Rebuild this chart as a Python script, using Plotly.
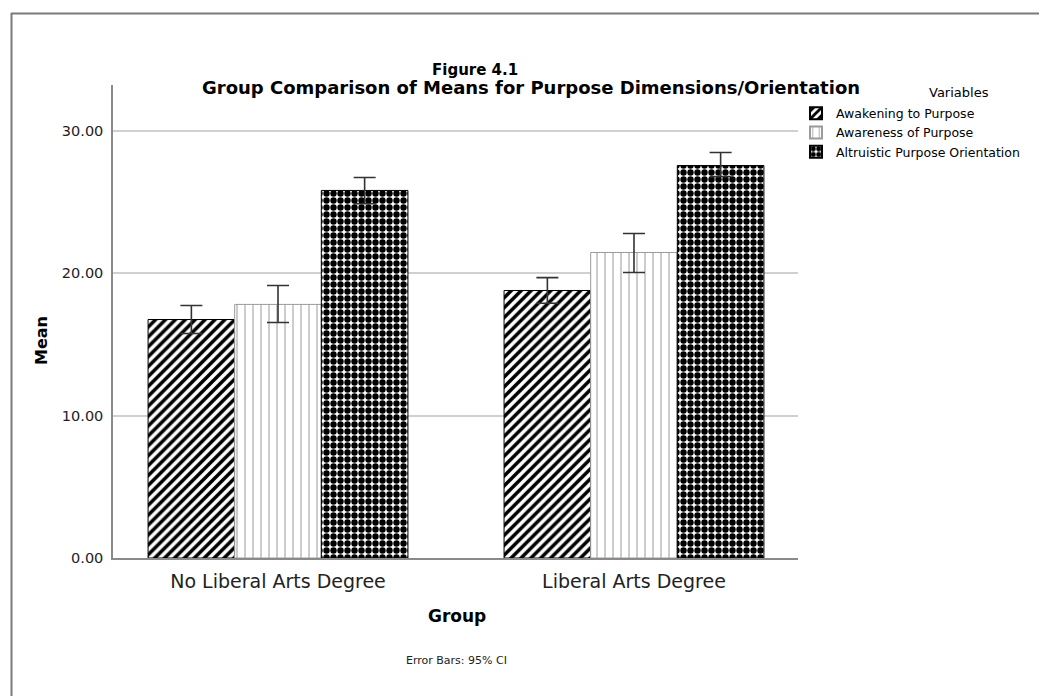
import plotly.graph_objects as go

groups = ["No Liberal Arts Degree", "Liberal Arts Degree"]
series_names = ["Awakening to Purpose", "Awareness of Purpose", "Altruistic Purpose Orientation"]
awakening = [16.76, 18.80]
awareness = [17.82, 21.47]
altruistic = [25.83, 27.58]
awakening_ci = [(15.78, 17.74), (17.90, 19.70)]
awareness_ci = [(16.55, 19.15), (20.06, 22.80)]
altruistic_ci = [(24.90, 26.74), (26.80, 28.50)]
y_ticks = [0, 10, 20, 30]
y_ticklabels = ["0.00", "10.00", "20.00", "30.00"]

# page body adds an 8px margin; compensate
OFF = 8
W, H = 1047, 696
L, R, T, B = 113 - OFF, 798 - OFF, 85 - OFF, 558 - OFF
def px(x):
    return (x - OFF - L) / (R - L)
def py(y):
    return (B - (y - OFF)) / (B - T)

FONT = "DejaVu Sans"
x_pos = list(range(len(groups)))

styles = [
    dict(shape="/", fgcolor="black", bgcolor="white", solidity=0.5, size=7, line="black"),
    dict(shape="|", fgcolor="#ababab", bgcolor="white", solidity=0.15, size=8, line="#9a9a9a"),
    dict(shape=".", fgcolor="black", bgcolor="white", solidity=0.65, size=7, line="black"),
]
data = [awakening, awareness, altruistic]
cis = [awakening_ci, awareness_ci, altruistic_ci]

fig = go.Figure()
for name, vals, ci, st in zip(series_names, data, cis, styles):
    plus = [hi - v for v, (lo, hi) in zip(vals, ci)]
    minus = [v - lo for v, (lo, hi) in zip(vals, ci)]
    fig.add_trace(go.Bar(
        x=x_pos, y=vals, name=name,
        marker=dict(color="white",
                    line=dict(color=st["line"], width=1),
                    pattern=dict(shape=st["shape"], fgcolor=st["fgcolor"], bgcolor=st["bgcolor"],
                                 solidity=st["solidity"], size=st["size"], fillmode="replace")),
        error_y=dict(type="data", symmetric=False, array=plus, arrayminus=minus,
                     color="#333333", thickness=1.6, width=11),
    ))

def ann(text, x, y, size, color="black", angle=0):
    return dict(text=text, x=px(x), y=py(y), xref="paper", yref="paper", xanchor="center",
                yanchor="middle", showarrow=False, textangle=angle,
                font=dict(size=size, family=FONT, color=color))

fig.update_layout(
    width=W, height=H,
    margin=dict(l=L, r=W - R, t=T, b=H - B, pad=0),
    paper_bgcolor="white", plot_bgcolor="white",
    barmode="group", bargap=0.27, bargroupgap=0,
    font=dict(family=FONT, color="black"),
    showlegend=True,
    legend=dict(x=px(796), y=py(98.5), xanchor="left", yanchor="top",
                font=dict(size=12.5, family=FONT), tracegroupgap=0, itemsizing="constant",
                bgcolor="rgba(0,0,0,0)"),
    xaxis=dict(range=[-0.4635, 1.4607], tickvals=x_pos, ticktext=groups,
               showgrid=False, zeroline=False, showline=True, linecolor="#8a8a8a", linewidth=1.5,
               ticks="", ticklabelstandoff=5, tickfont=dict(size=19, family=FONT, color="#222"),
               fixedrange=True),
    yaxis=dict(range=[0, 33.24], tickvals=y_ticks, ticktext=y_ticklabels,
               showgrid=True, gridcolor="#d0d0d0", gridwidth=1.5, zeroline=False,
               showline=True, linecolor="#8a8a8a", linewidth=1.5,
               ticks="", ticklabelstandoff=5, tickfont=dict(size=14.5, family=FONT, color="#222")),
    annotations=[
        ann("<b>Figure 4.1</b>", 475, 70, 15),
        ann("<b>Group Comparison of Means for Purpose Dimensions/Orientation</b>", 531, 87, 18),
        ann("Variables", 959, 93, 13),
        ann("<b>Group</b>", 457, 616, 17),
        ann("<b>Mean</b>", 41, 341, 16, angle=-90),
        ann("Error Bars: 95% CI", 456, 660, 11, color="#222"),
    ],
    shapes=[
        dict(type="line", xref="paper", yref="paper", x0=px(11.5), x1=px(11.5), y0=py(13), y1=py(710),
             line=dict(color="#7a7a7a", width=2)),
        dict(type="line", xref="paper", yref="paper", x0=px(11), x1=px(1060), y0=py(13.5), y1=py(13.5),
             line=dict(color="#7a7a7a", width=2)),
    ],
)

fig.write_html("out.html")
